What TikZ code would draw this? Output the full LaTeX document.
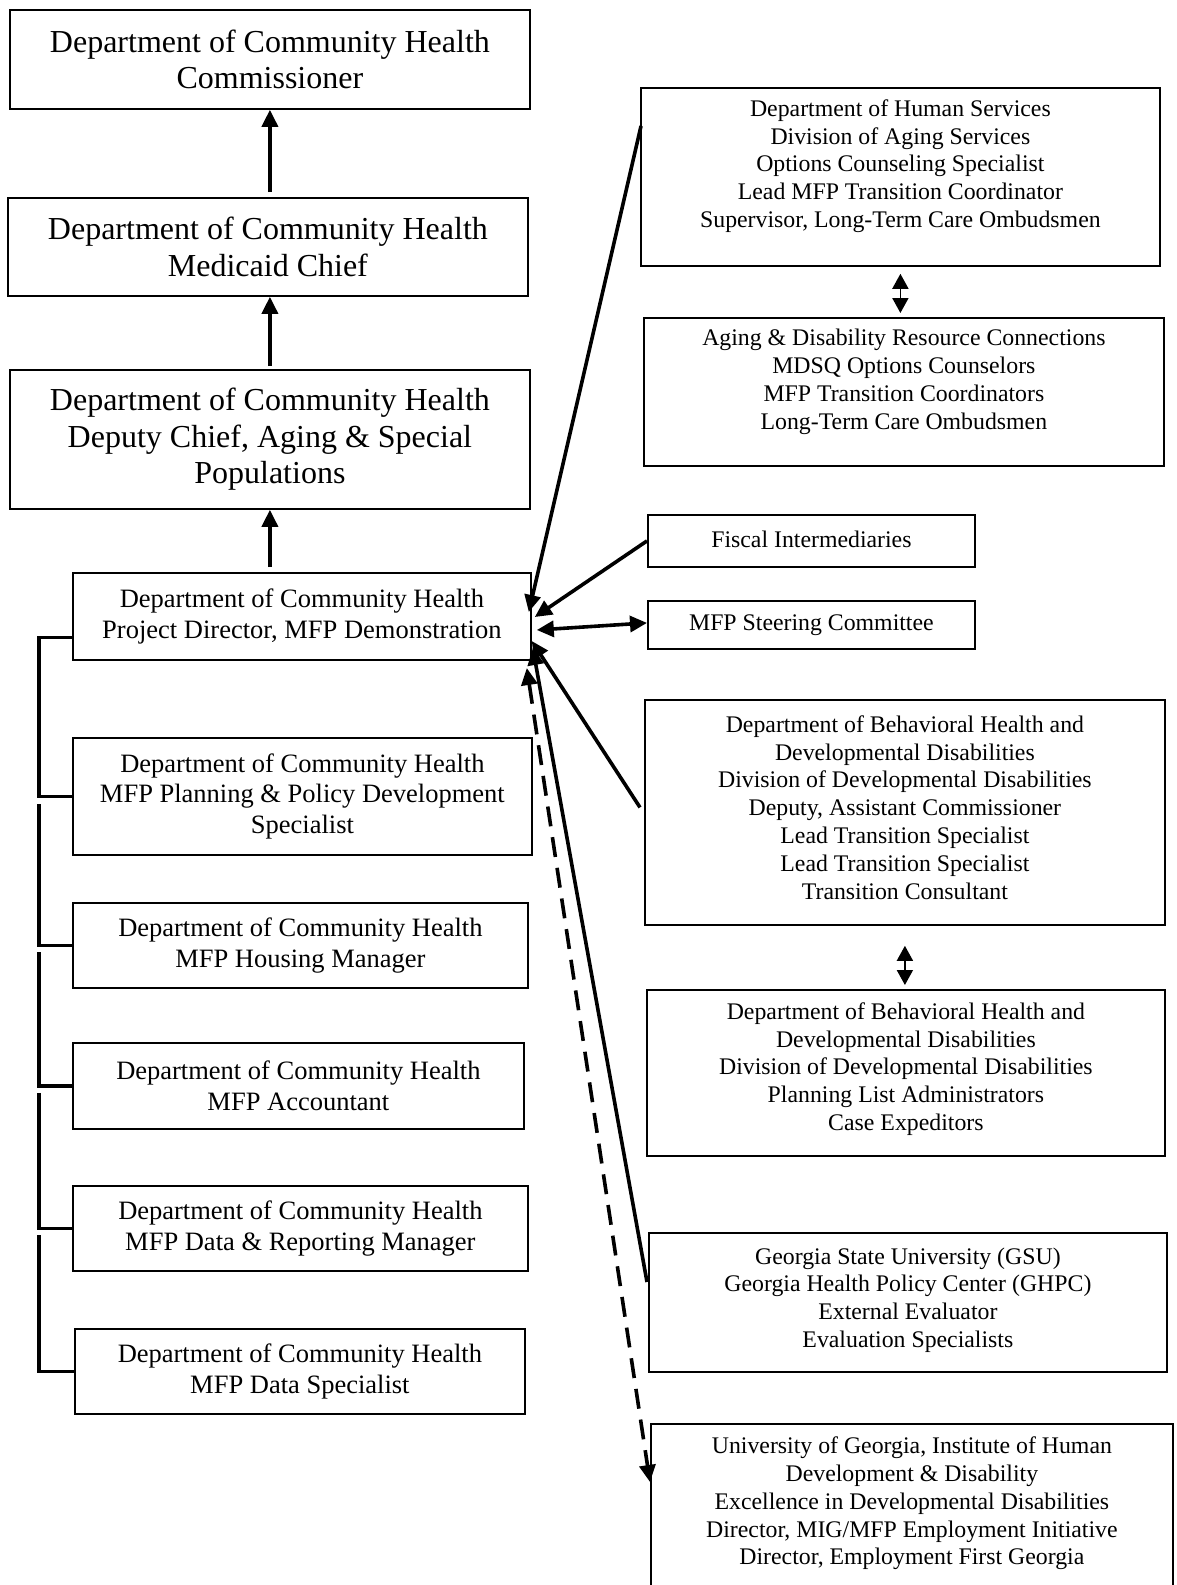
\documentclass[tikz,border=0pt]{standalone}
\usepackage{fontspec}
\setmainfont{Liberation Serif}
\usetikzlibrary{arrows.meta,calc}
\begin{document}
\begin{tikzpicture}[x=1pt,y=-1pt,
  box/.style={draw, line width=1.8pt, inner sep=0pt, align=center, anchor=north west},
  big/.style={font=\fontsize{32}{36.4}\selectfont},
  mid/.style={font=\fontsize{26.5}{30.3}\selectfont},
  txt/.style={align=center, inner sep=0pt, font=\fontsize{23.8}{27.8}\selectfont},
  conn/.style={line width=3.6pt, -{Triangle[length=17pt,width=16pt]}},
  conntwo/.style={line width=3.6pt, {Triangle[length=17pt,width=16pt]}-{Triangle[length=17pt,width=16pt]}},
  dbl/.style={line width=1.8pt, {Triangle[length=15pt,width=16pt]}-{Triangle[length=15pt,width=16pt]}},
  brk/.style={line width=3.6pt},
  dashline/.style={dash pattern=on 20pt off 11pt}
]
\useasboundingbox (0,0) rectangle (1176,1585);

% left column
\node[box, big, minimum width=520pt, minimum height=99pt] (comm) at (9,9) {Department of Community Health\\Commissioner};
\node[box, big, minimum width=520pt, minimum height=98pt] (med) at (7,197) {Department of Community Health\\Medicaid Chief};
\node[box, big, minimum width=520pt, minimum height=139pt] (dep) at (9,369) {Department of Community Health\\Deputy Chief, Aging \& Special\\Populations};
\node[box, mid, minimum width=458pt, minimum height=87pt] (pd) at (72,572) {Department of Community Health\\Project Director, MFP Demonstration};
\node[box, mid, minimum width=459pt, minimum height=117pt] (plan) at (72,737) {Department of Community Health\\MFP Planning \& Policy Development\\Specialist};
\node[box, mid, minimum width=455pt, minimum height=85pt] (house) at (72,902) {Department of Community Health\\MFP Housing Manager};
\node[box, mid, minimum width=451pt, minimum height=86pt] (acct) at (72,1042) {Department of Community Health\\MFP Accountant};
\node[box, mid, minimum width=455pt, minimum height=85pt] (datarep) at (72,1185) {Department of Community Health\\MFP Data \& Reporting Manager};
\node[box, mid, minimum width=450pt, minimum height=85pt] (dataspec) at (74,1328) {Department of Community Health\\MFP Data Specialist};

% right column boxes
\node[box, minimum width=519pt, minimum height=178pt] (dhs) at (640,87) {};
\node[box, minimum width=520pt, minimum height=148pt] (adrc) at (643,317) {};
\node[box, minimum width=327pt, minimum height=52pt] (fiscal) at (647,514) {};
\node[box, minimum width=327pt, minimum height=48pt] (steer) at (647,600) {};
\node[box, minimum width=520pt, minimum height=225pt] (dbha) at (644,699) {};
\node[box, minimum width=518pt, minimum height=166pt] (dbhb) at (646,989) {};
\node[box, minimum width=518pt, minimum height=139pt] (gsu) at (648,1232) {};
\node[box, minimum width=522pt, minimum height=168pt] (uga) at (650,1423) {};

% right column texts
\node[txt] (dhst) at ($(dhs.north)+(0,79)$) {Department of Human Services\\Division of Aging Services\\Options Counseling Specialist\\Lead MFP Transition Coordinator\\Supervisor, Long-Term Care Ombudsmen};
\node[txt] (adrct) at ($(adrc.north)+(0,65)$) {Aging \& Disability Resource Connections\\MDSQ Options Counselors\\MFP Transition Coordinators\\Long-Term Care Ombudsmen};
\node[txt] (fiscalt) at ($(fiscal.center)+(0,-2)$) {Fiscal Intermediaries};
\node[txt] (steert) at (steer.center) {MFP Steering Committee};
\node[txt] (dbhat) at ($(dbha.north)+(0,108.5)$) {Department of Behavioral Health and\\Developmental Disabilities\\Division of Developmental Disabilities\\Deputy, Assistant Commissioner\\Lead Transition Specialist\\Lead Transition Specialist\\Transition Consultant};
\node[txt] (dbhbt) at ($(dbhb.north)+(0,80)$) {Department of Behavioral Health and\\Developmental Disabilities\\Division of Developmental Disabilities\\Planning List Administrators\\Case Expeditors};
\node[txt] (gsut) at ($(gsu.north)+(0,68)$) {Georgia State University (GSU)\\Georgia Health Policy Center (GHPC)\\External Evaluator\\Evaluation Specialists};
\node[txt] (ugat) at ($(uga.north)+(0,80.5)$) {University of Georgia, Institute of Human\\Development \& Disability\\Excellence in Developmental Disabilities\\Director, MIG/MFP Employment Initiative\\Director, Employment First Georgia};

% vertical chain
\draw[conn] ([yshift=5pt]comm.south |- med.north) -- (comm.south);
\draw[conn] ([yshift=3pt]comm.south |- dep.north) -- (comm.south |- med.south);
\draw[conn] ([yshift=5pt]comm.south |- pd.north) -- (comm.south |- dep.south);

% bracket
\draw[brk] ($(pd.west)+(0,21)$) -- ++(-33,0) |- (plan.west);
\draw[brk] ($(plan.west)+(-33,8)$) |- (house.west);
\draw[brk] ($(house.west)+(-33,7)$) |- (acct.west);
\draw[brk] ($(acct.west)+(-33,7)$) |- (datarep.west);
\draw[brk] ($(datarep.west)+(-33,7)$) |- (dataspec.west);

% right-side short double arrows
\draw[dbl] ([yshift=-7pt]dhs.south) -- ([yshift=4pt]dhs.south |- adrc.north);
\draw[dbl] ([yshift=-20pt]dbha.south) -- ([yshift=4pt]dbha.south |- dbhb.north);

% connectors to project director
\draw[conn] ($(dhs.north west)+(1,39)$) -- ($(pd.north east)+(-3,40)$);
\draw[conn] (fiscal.west) -- ($(pd.north east)+(3,45)$);
\draw[conntwo] ($(pd.north east)+(5,58)$) -- ($(steer.west)+(0,-2)$);
\draw[conn] ($(dbha.west)+(-4,-5)$) -- ($(pd.north east)+(0,69)$);
\draw[conn] ($(gsu.north west)+(-1,50)$) -- ($(pd.north east)+(1,76)$);
\draw[conntwo, dashline] ($(pd.north east)+(-5,96)$) -- ($(uga.north west)+(0,59)$);
\end{tikzpicture}
\end{document}
